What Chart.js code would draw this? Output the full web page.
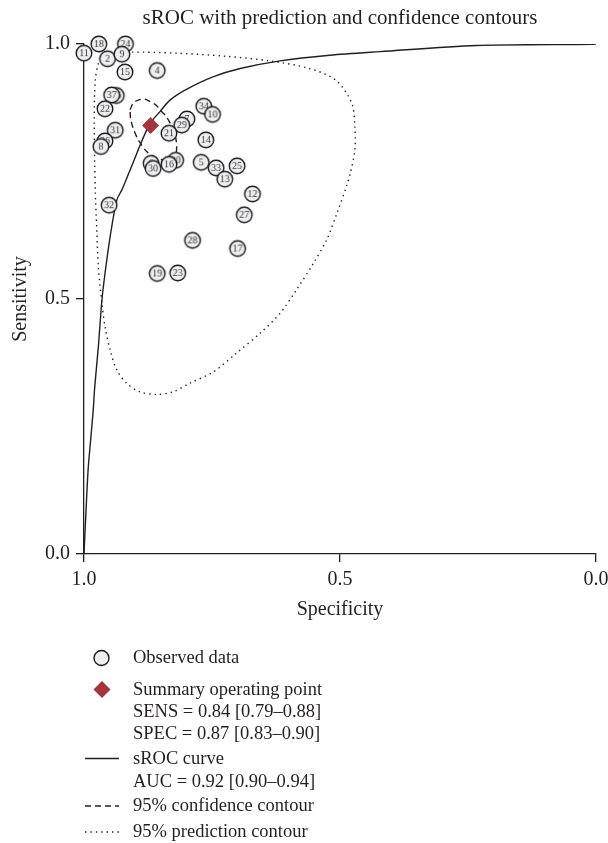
<!DOCTYPE html>
<html>
<head>
<meta charset="utf-8">
<script src="https://cdn.jsdelivr.net/npm/chart.js@4"></script>
<style>
body{margin:0;background:#fff;}
#wrap{position:relative;width:608px;height:843px;font-family:"Liberation Serif",serif;color:#231f20;}
#c{position:absolute;left:0;top:0;}
#keys{position:absolute;left:0;top:0;}
.lg{position:absolute;left:133px;font-size:18.5px;line-height:22px;white-space:nowrap;}
</style>
</head>
<body>
<div id="wrap">
<canvas id="c" width="608" height="640"></canvas>
<svg id="keys" width="608" height="843">
  <circle cx="101.5" cy="658" r="7.5" fill="#efeff1" stroke="#1a1a1a" stroke-width="1.4"/>
  <polygon points="102,681 110.5,689.5 102,698 93.5,689.5" fill="#a4343e"/>
  <line x1="85" x2="119" y1="758.5" y2="758.5" stroke="#231f20" stroke-width="1.4"/>
  <line x1="85" x2="119" y1="806" y2="806" stroke="#231f20" stroke-width="1.4" stroke-dasharray="6,4"/>
  <line x1="85" x2="119" y1="832" y2="832" stroke="#231f20" stroke-width="1.4" stroke-dasharray="1.4,4"/>
</svg>
<div class="lg" style="top:646px">Observed data</div>
<div class="lg" style="top:678px">Summary operating point</div>
<div class="lg" style="top:700px">SENS = 0.84 [0.79–0.88]</div>
<div class="lg" style="top:722px">SPEC = 0.87 [0.83–0.90]</div>
<div class="lg" style="top:747px">sROC curve</div>
<div class="lg" style="top:770px">AUC = 0.92 [0.90–0.94]</div>
<div class="lg" style="top:794px">95% confidence contour</div>
<div class="lg" style="top:820px">95% prediction contour</div>
</div>
<script>
// observed studies (drawing order: later ones sit on top)
const studyIds  = ['36','37','11','18','24','2','9','15','4','22','31','26','8','32',
                   '7','29','21','34','10','14','6','30','20','16','5','33','13','25',
                   '12','27','28','17','19','23'];
const studySpec = [0.937,0.946,1.000,0.971,0.919,0.954,0.926,0.920,0.857,0.959,0.939,0.959,0.967,0.951,
                   0.799,0.809,0.834,0.766,0.749,0.762,0.869,0.865,0.821,0.834,0.771,0.742,0.725,0.701,
                   0.671,0.687,0.788,0.700,0.857,0.817];
const studySens = [0.899,0.900,0.982,1.000,1.000,0.971,0.980,0.945,0.948,0.873,0.831,0.810,0.799,0.684,
                   0.853,0.841,0.825,0.878,0.862,0.812,0.766,0.756,0.772,0.764,0.768,0.757,0.735,0.761,
                   0.706,0.665,0.615,0.599,0.550,0.551];

// summary operating point
const summarySpec = [0.87];
const summarySens = [0.84];

// sROC curve
const srocSpec = [1.000,0.996,0.992,0.987,0.982,0.979,0.972,0.965,0.959,0.949,0.936,0.926,0.910,
                  0.873,0.852,0.832,0.800,0.747,0.695,0.617,0.520,0.422,0.234,0.0065,0.000];
const srocSens = [0.000,0.086,0.165,0.224,0.282,0.328,0.406,0.498,0.550,0.622,0.694,0.714,0.753,
                  0.841,0.867,0.890,0.911,0.936,0.952,0.967,0.978,0.985,0.997,0.9994,1.000];

// 95% confidence contour
const confSpec = [0.910,0.904,0.894,0.881,0.871,0.859,0.848,0.840,0.832,0.826,0.822,0.819,0.822,
                  0.832,0.846,0.858,0.8775,0.894,0.904,0.909,0.910];
const confSens = [0.871,0.884,0.890,0.892,0.887,0.880,0.867,0.859,0.845,0.833,0.822,0.799,0.779,
                  0.773,0.773,0.776,0.789,0.812,0.835,0.854,0.871];

// 95% prediction contour
const predSpec = [0.967,0.939,0.908,0.820,0.723,0.638,0.560,0.508,0.477,0.471,0.471,0.480,0.487,
                  0.506,0.526,0.552,0.585,0.617,0.656,0.702,0.7475,0.793,0.826,0.858,0.891,0.917,
                  0.936,0.949,0.959,0.965,0.972,0.975,0.978,0.980,0.978,0.972,0.967];
const predSens = [0.969,0.980,0.984,0.982,0.976,0.967,0.952,0.929,0.884,0.838,0.792,0.746,0.722,
                  0.668,0.616,0.570,0.518,0.472,0.433,0.394,0.357,0.335,0.318,0.313,0.318,0.335,
                  0.361,0.400,0.446,0.492,0.563,0.635,0.714,0.845,0.929,0.962,0.969];

const tickLabels = {0: '0.0', 0.5: '0.5', 1: '1.0'};

const ink = '#231f20';
const serif = '"Liberation Serif", "Times New Roman", serif';

function pts(xs, ys){ return xs.map((x,i)=>({x:x, y:ys[i]})); }

function makeBadge(label){
    let c = document.createElement('canvas');
    c.width = 20; c.height = 20;
    let g = c.getContext('2d');
    g.beginPath();
    g.arc(10, 10, 7.8, 0, Math.PI*2);
    g.fillStyle = '#efeff1';
    g.fill();
    g.lineWidth = 1.4;
    g.strokeStyle = '#1a1a1a';
    g.stroke();
    g.fillStyle = '#333';
    g.font = '10px ' + serif;
    g.textAlign = 'center';
    g.textBaseline = 'middle';
    g.fillText(label, 10, 10.5);
    return c;
}
const badges = studyIds.map(makeBadge);

const axisCommon = {
    type: 'linear', min: 0, max: 1,
    border: {color: ink, width: 1.3},
    grid: {drawOnChartArea: false, drawTicks: true, tickLength: 8, color: ink, lineWidth: 1.3},
    ticks: {stepSize: 0.5, color: ink, font: {family: serif, size: 20}, padding: 6,
            callback: v => tickLabels[v]},
};

new Chart(document.getElementById('c'), {
    type: 'scatter',
    data: {
        datasets: [
            {
                label: 'Summary operating point',
                data: pts(summarySpec, summarySens),
                pointStyle: 'rectRot', pointRadius: 8.5,
                backgroundColor: '#a4343e', borderColor: '#a4343e', borderWidth: 0,
                order: 0, clip: false
            },
            {
                label: 'Observed data',
                data: pts(studySpec, studySens),
                pointStyle: ctx => badges[ctx.dataIndex],
                pointRadius: 8,
                order: 1, clip: false
            },
            {
                label: '95% confidence contour',
                data: pts(confSpec, confSens),
                showLine: true, pointRadius: 0, tension: 0.3,
                borderColor: ink, borderWidth: 1.4, borderDash: [6, 4],
                order: 2
            },
            {
                label: 'sROC curve',
                data: pts(srocSpec, srocSens),
                showLine: true, pointRadius: 0, tension: 0.3,
                borderColor: ink, borderWidth: 1.4,
                order: 3
            },
            {
                label: '95% prediction contour',
                data: pts(predSpec, predSens),
                showLine: true, pointRadius: 0, tension: 0.3,
                borderColor: ink, borderWidth: 1.4, borderDash: [1.4, 4],
                order: 4
            }
        ]
    },
    options: {
        responsive: false,
        animation: false,
        layout: {padding: {left: 0, right: 0, top: 0, bottom: 0}},
        plugins: {
            legend: {display: false},
            tooltip: {enabled: false},
            title: {
                display: true, fullSize: false,
                text: 'sROC with prediction and confidence contours',
                color: ink, font: {family: serif, size: 21, weight: 'normal'},
                padding: {top: 6, bottom: 12.8}
            }
        },
        scales: {
            x: {
                ...axisCommon,
                reverse: true,
                title: {display: true, text: 'Specificity', color: ink,
                        font: {family: serif, size: 20}, padding: {top: 18, bottom: 18}},
                afterFit: s => { s.height = 86; s.paddingRight = 12; s.paddingLeft = 12; }
            },
            y: {
                ...axisCommon,
                title: {display: true, text: 'Sensitivity', color: ink,
                        font: {family: serif, size: 20}, padding: {top: 9, bottom: 9}},
                afterFit: s => { s.width = 84; }
            }
        }
    }
});
</script>
</body>
</html>
